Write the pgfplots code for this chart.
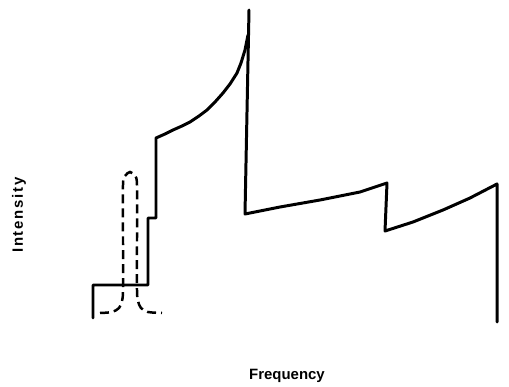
\documentclass[border=0pt]{standalone}
\usepackage{fontspec}
\setmainfont{Liberation Sans}
\usepackage{pgfplots}
\pgfplotsset{compat=1.18}
\begin{document}
\begin{tikzpicture}
\begin{axis}[
  scale only axis, width=509bp, height=384bp,
  xmin=0, xmax=509, ymin=0, ymax=384,
  hide axis, clip=false,
  y dir=reverse,
]
\path (rel axis cs:0,0) rectangle (rel axis cs:1,1);
% solid spectrum (pixel coordinates, y downward)
\addplot[black, line width=3pt, line join=round, line cap=round] coordinates {
 (93,318) (93,285) (148,285) (148,218) (156,218) (156,138)
 (165,134) (173,130) (182,126) (190,122) (199,116) (207,110) (215,102)
 (223,93) (230,84) (237,73) (241,63) (245,50) (248,35)
};
\addplot[black, line width=3pt, line join=round, line cap=round] coordinates {
 (249,10) (245,214) (280,207) (320,200) (360,192) (387,183) (385,231)
 (413,222) (443,210) (470,198) (497,184) (497,322)
};
% dashed line
\addplot[black, line width=2.5pt, dash pattern=on 9pt off 5pt, smooth, tension=0.5] coordinates {
 (100,313) (112,312) (119,308) (122,301) (123,290) (123,240) (123,185) (125,176)
 (130,172) (135,176) (137,185) (137,240) (137,290) (138,301) (141,308) (148,312) (162,313)
};
\node[rotate=90, font=\bfseries\fontsize{15}{17}\selectfont\addfontfeature{LetterSpace=12}, anchor=center] at (axis cs:19,215) {Intensity};
\node[font=\bfseries\fontsize{15}{17}\selectfont, anchor=center] at (axis cs:287,376) {Frequency};
\end{axis}
\end{tikzpicture}
\end{document}
